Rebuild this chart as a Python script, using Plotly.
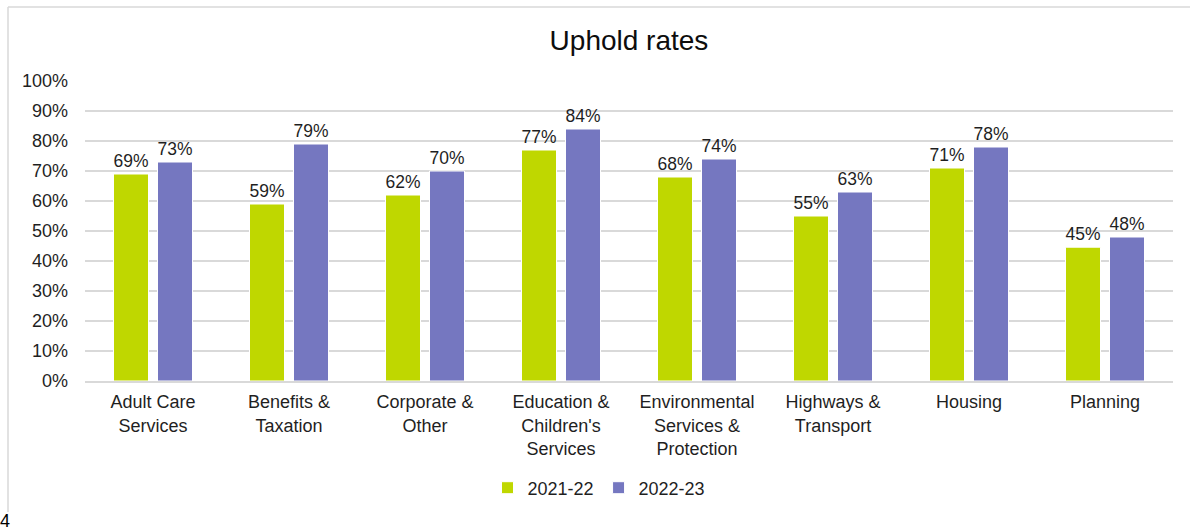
import plotly.graph_objects as go

categories = ["Adult Care<br>Services", "Benefits &<br>Taxation", "Corporate &<br>Other",
              "Education &<br>Children's<br>Services", "Environmental<br>Services &<br>Protection",
              "Highways &<br>Transport", "Housing", "Planning"]
rates_2021_22 = [0.69, 0.59, 0.62, 0.77, 0.68, 0.55, 0.71, 0.446]
rates_2022_23 = [0.73, 0.79, 0.70, 0.84, 0.74, 0.63, 0.78, 0.48]
y_ticks = [0, 0.1, 0.2, 0.3, 0.4, 0.5, 0.6, 0.7, 0.8, 0.9, 1.0]

FONT = "Liberation Sans, Arial, sans-serif"
TXT = "#1f1f1f"

fig = go.Figure()
fig.add_trace(go.Bar(name="2021-22", x=categories, y=rates_2021_22,
                     marker=dict(color="#bfd700", line=dict(color="white", width=1)),
                     texttemplate="%{y:.0%}", textposition="outside",
                     textfont=dict(size=18, color=TXT, family=FONT), cliponaxis=False))
fig.add_trace(go.Bar(name="2022-23", x=categories, y=rates_2022_23,
                     marker=dict(color="#7577c0", line=dict(color="white", width=1)),
                     texttemplate="%{y:.0%}", textposition="outside",
                     textfont=dict(size=18, color=TXT, family=FONT), cliponaxis=False))

fig.update_layout(
    width=1190, height=531,
    margin=dict(l=85, r=17, t=81, b=150),
    paper_bgcolor="white", plot_bgcolor="white",
    font=dict(family=FONT, size=18, color=TXT),
    title=dict(text="Uphold rates", x=0.5, xanchor="center", xref="paper",
               y=1 - 40 / 531, yanchor="middle", yref="container",
               font=dict(size=28, color="#0d0d0d", family=FONT)),
    barmode="group", bargap=0.353, bargroupgap=0.2045,
    legend=dict(orientation="h", x=0.5 - 30 / 1088, xanchor="center", y=(381 - 488) / 300, yanchor="middle",
                font=dict(size=18, color=TXT), itemwidth=30, traceorder="normal"),
    showlegend=True,
)
fig.update_yaxes(range=[0, 1.0], tickvals=y_ticks, tickformat=".0%", showgrid=True,
                 gridcolor="#d9d9d9", gridwidth=1.5, zeroline=False, showline=False,
                 ticks="", ticklen=0, ticklabelstandoff=16,
                 tickfont=dict(size=18, color=TXT), automargin=False)
fig.update_xaxes(showline=True, linecolor="#d9d9d9", linewidth=1.5, ticks="",
                 ticklabelstandoff=4,
                 tickfont=dict(size=18, color=TXT), automargin=False)

# chart frame (left and top edges visible)
fig.add_shape(type="line", xref="paper", yref="paper",
              x0=(8 - 85) / 1088, x1=(8 - 85) / 1088, y0=(381 - 7) / 300, y1=(381 - 512) / 300,
              line=dict(color="#d9d9d9", width=1.5))
fig.add_shape(type="line", xref="paper", yref="paper",
              x0=(8 - 85) / 1088, x1=(1192 - 85) / 1088, y0=(381 - 7) / 300, y1=(381 - 7) / 300,
              line=dict(color="#d9d9d9", width=1.5))
fig.add_annotation(text="4", xref="paper", yref="paper", x=(-2 - 85) / 1088, y=(381 - 521) / 300,
                   xanchor="left", yanchor="middle", showarrow=False,
                   font=dict(size=18, color="#000000", family=FONT))

fig.write_html("out.html")
